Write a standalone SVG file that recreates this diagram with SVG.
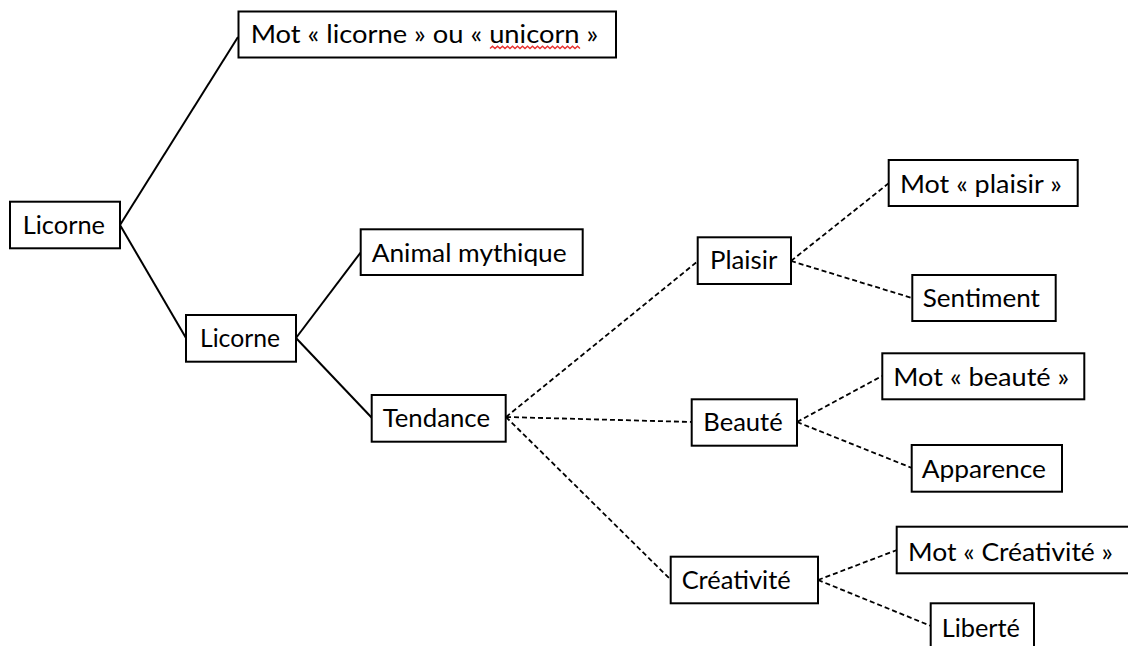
<svg xmlns="http://www.w3.org/2000/svg" width="1128" height="646" viewBox="0 0 1128 646">
<style>
.box{fill:#fff;stroke:#000;stroke-width:2}
.t{font-family:Lato,"Open Sans","Liberation Sans",sans-serif;font-size:25px;fill:#000}
.solid{stroke:#000;stroke-width:2;fill:none}
.dash{stroke:#000;stroke-width:1.8;fill:none;stroke-dasharray:5 3}
</style>
<rect width="1128" height="646" fill="#fff"/>
<g id="connectors">
<line class="solid" x1="120" y1="225" x2="238" y2="37"/>
<line class="solid" x1="120" y1="225" x2="186" y2="338"/>
<line class="solid" x1="296" y1="338" x2="361" y2="252"/>
<line class="solid" x1="296" y1="338" x2="372" y2="418"/>
<line class="dash" x1="506" y1="417" x2="698" y2="261"/>
<line class="dash" x1="506" y1="417" x2="692" y2="422"/>
<line class="dash" x1="506" y1="417" x2="671" y2="580"/>
<line class="dash" x1="791" y1="261" x2="889" y2="183"/>
<line class="dash" x1="791" y1="261" x2="912" y2="298"/>
<line class="dash" x1="797" y1="422" x2="882" y2="376"/>
<line class="dash" x1="797" y1="422" x2="912" y2="468"/>
<line class="dash" x1="818" y1="580" x2="897" y2="550"/>
<line class="dash" x1="818" y1="580" x2="931" y2="626"/>
</g>
<g id="n_mot_licorne">
<rect class="box" x="238.5" y="11.5" width="377.5" height="46"/>
<text class="t" x="250.7" y="42.7" textLength="347.6" lengthAdjust="spacingAndGlyphs">Mot « licorne » ou « unicorn »</text>
<path d="M490 48.5 l2.5 -2.2 l2.5 2.2 l2.5 -2.2 l2.5 2.2 l2.5 -2.2 l2.5 2.2 l2.5 -2.2 l2.5 2.2 l2.5 -2.2 l2.5 2.2 l2.5 -2.2 l2.5 2.2 l2.5 -2.2 l2.5 2.2 l2.5 -2.2 l2.5 2.2 l2.5 -2.2 l2.5 2.2 l2.5 -2.2 l2.5 2.2 l2.5 -2.2 l2.5 2.2 l2.5 -2.2 l2.5 2.2 l2.5 -2.2 l2.5 2.2 l2.5 -2.2 l2.5 2.2 l2.5 -2.2 l2.5 2.2 l2.5 -2.2 l2.5 2.2 l2.5 -2.2 l2.5 2.2 l2.5 -2.2 l2.5 2.2" fill="none" stroke="#e8312f" stroke-width="1.4"/>
</g>
<g id="n_root">
<rect class="box" x="10" y="201.7" width="110" height="46.6"/>
<text class="t" x="22.7" y="234.3" textLength="82.3" lengthAdjust="spacingAndGlyphs">Licorne</text>
</g>
<g id="n_licorne2">
<rect class="box" x="186" y="315" width="110" height="46.7"/>
<text class="t" x="200" y="346.7" textLength="80" lengthAdjust="spacingAndGlyphs">Licorne</text>
</g>
<g id="n_animal">
<rect class="box" x="360.7" y="229.3" width="222" height="45.7"/>
<text class="t" x="371.7" y="261.7" textLength="195" lengthAdjust="spacingAndGlyphs">Animal mythique</text>
</g>
<g id="n_tendance">
<rect class="box" x="371.7" y="395" width="134" height="46.7"/>
<text class="t" x="382.7" y="426.7" textLength="107.3" lengthAdjust="spacingAndGlyphs">Tendance</text>
</g>
<g id="n_plaisir">
<rect class="box" x="697.7" y="237.3" width="93.3" height="46.7"/>
<text class="t" x="710" y="269.3" textLength="67.3" lengthAdjust="spacingAndGlyphs">Plaisir</text>
</g>
<g id="n_mot_plaisir">
<rect class="box" x="888.7" y="160" width="189" height="46"/>
<text class="t" x="900" y="192.7" textLength="161.7" lengthAdjust="spacingAndGlyphs">Mot « plaisir »</text>
</g>
<g id="n_sentiment">
<rect class="box" x="912.3" y="275" width="143.4" height="46"/>
<text class="t" x="922.7" y="306.7" textLength="117.3" lengthAdjust="spacingAndGlyphs">Sentiment</text>
</g>
<g id="n_beaute">
<rect class="box" x="691.7" y="399.3" width="105.3" height="46.4"/>
<text class="t" x="703.3" y="430.7" textLength="79.4" lengthAdjust="spacingAndGlyphs">Beauté</text>
</g>
<g id="n_mot_beaute">
<rect class="box" x="882.3" y="353.3" width="202" height="46"/>
<text class="t" x="893.3" y="386" textLength="176" lengthAdjust="spacingAndGlyphs">Mot « beauté »</text>
</g>
<g id="n_apparence">
<rect class="box" x="911.7" y="445" width="150.3" height="46.7"/>
<text class="t" x="921.7" y="477.7" textLength="124.3" lengthAdjust="spacingAndGlyphs">Apparence</text>
</g>
<g id="n_creativite">
<rect class="box" x="670.7" y="556.7" width="147.3" height="46.6"/>
<text class="t" x="681.7" y="589.3" textLength="109" lengthAdjust="spacingAndGlyphs">Créativité</text>
</g>
<g id="n_mot_creativite">
<rect class="box" x="896.7" y="526.7" width="234" height="46.6"/>
<text class="t" x="908" y="560.7" textLength="205" lengthAdjust="spacingAndGlyphs">Mot « Créativité »</text>
</g>
<g id="n_liberte">
<rect class="box" x="930.7" y="603.3" width="103.3" height="46.7"/>
<text class="t" x="941.7" y="636.7" textLength="78.3" lengthAdjust="spacingAndGlyphs">Liberté</text>
</g>
</svg>
